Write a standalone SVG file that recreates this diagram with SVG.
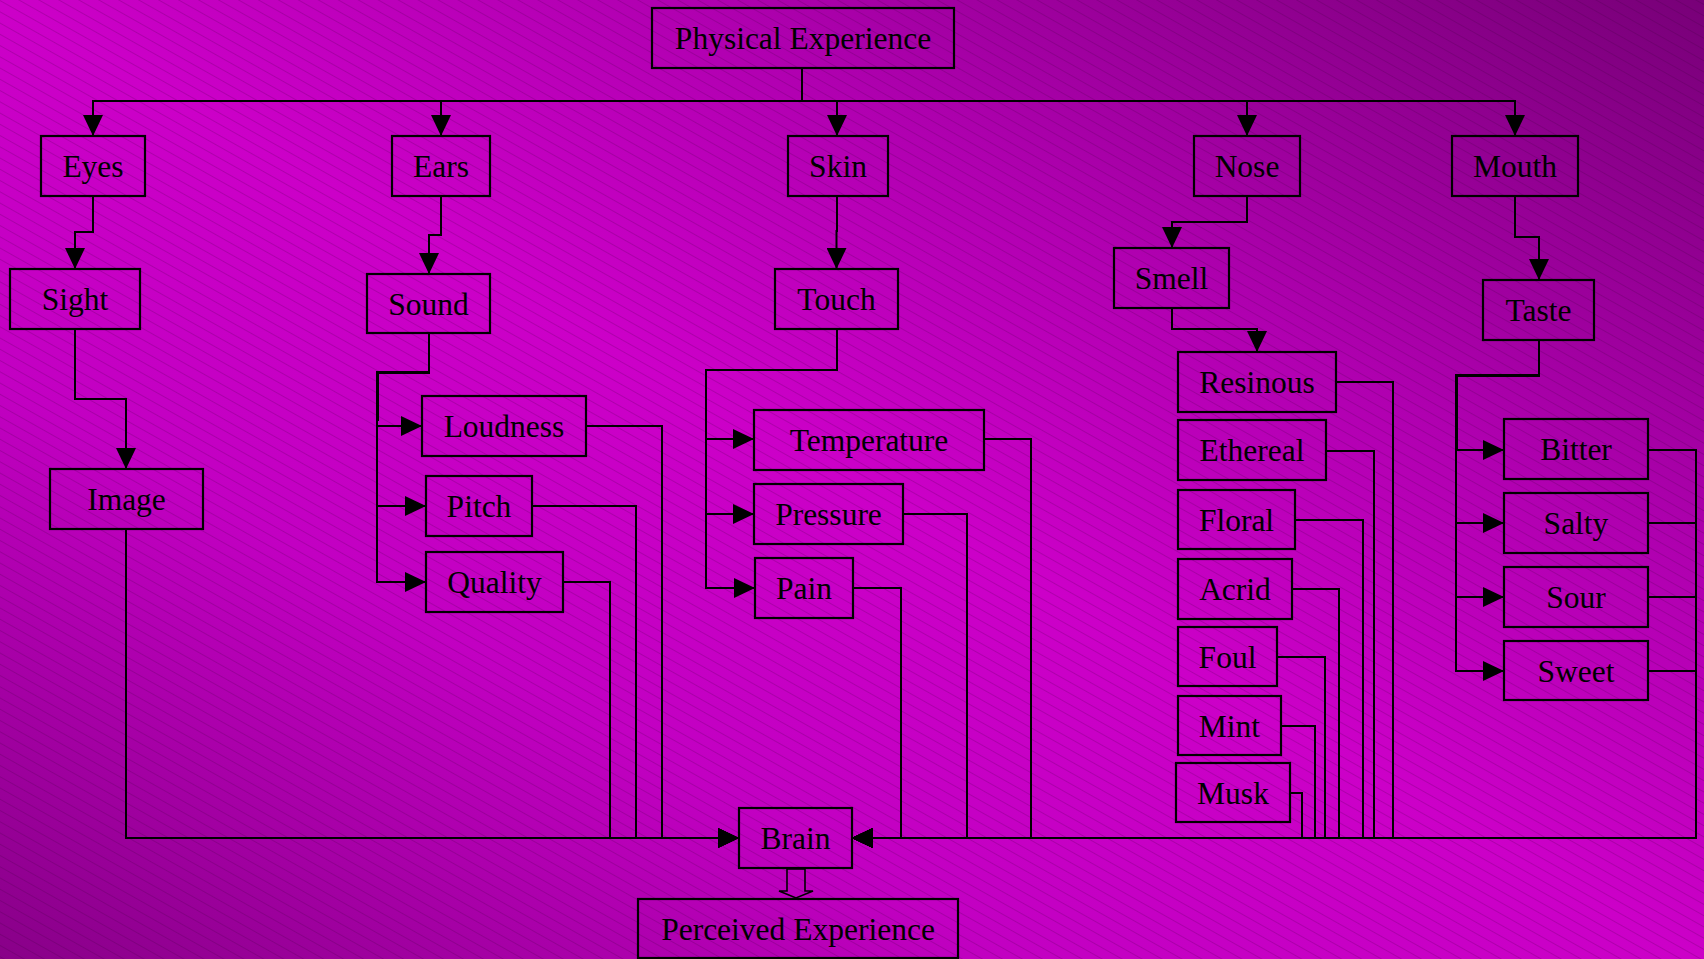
<svg xmlns="http://www.w3.org/2000/svg" width="1704" height="959" viewBox="0 0 1704 959">
<defs>
<linearGradient id="bg" x1="1" y1="0" x2="0" y2="1">
<stop offset="0" stop-color="#780078"/>
<stop offset="0.3" stop-color="#b000b0"/>
<stop offset="0.5" stop-color="#cc00c8"/>
<stop offset="0.7" stop-color="#c200c2"/>
<stop offset="1" stop-color="#880088"/>
</linearGradient>
<pattern id="stripes" patternUnits="userSpaceOnUse" width="20" height="9.8" patternTransform="rotate(29.4)">
<line x1="0" y1="0.5" x2="20" y2="0.5" stroke="#3a003a" stroke-width="0.7" stroke-opacity="0.28"/>
</pattern>
<marker id="ah" markerUnits="userSpaceOnUse" markerWidth="21" markerHeight="20" refX="21" refY="10" orient="auto">
<path d="M0,0 L21,10 L0,20 z" fill="#000"/>
</marker>
<style>
.box{fill:none;stroke:#000;stroke-width:2.2}
.lbl{font-family:"Liberation Serif","Times New Roman",serif;font-size:31.5px;fill:#000;text-anchor:middle}
.c{fill:none;stroke:#000;stroke-width:2}
.ca{fill:none;stroke:#000;stroke-width:2;marker-end:url(#ah)}
</style>
</defs>
<rect x="0" y="0" width="1704" height="959" fill="url(#bg)"/>
<rect x="0" y="0" width="1704" height="959" fill="url(#stripes)"/>

<g id="connectors">
<path class="ca" d="M802,68 V101 H93 V136"/>
<path class="ca" d="M802,68 V101 H441 V136"/>
<path class="ca" d="M802,68 V101 H837 V136"/>
<path class="ca" d="M802,68 V101 H1247 V136"/>
<path class="ca" d="M802,68 V101 H1515 V136"/>
<path class="ca" d="M93,196 V232 H75 V269"/>
<path class="ca" d="M75,329 V399 H126 V469"/>
<path class="ca" d="M441,196 V235 H429 V274"/>
<path class="ca" d="M429,333 V372 H377 V426 H422"/>
<path class="ca" d="M429,333 V373 H378 V420 H377 V506 H426"/>
<path class="ca" d="M429,333 V372 H377 V582 H426"/>
<path class="ca" d="M837,196 V231 H836.5 V269"/>
<path class="ca" d="M837,329 V370 H706 V439 H754"/>
<path class="ca" d="M837,329 V370 H706 V514 H754"/>
<path class="ca" d="M837,329 V370 H706 V588 H755"/>
<path class="ca" d="M1247,196 V222 H1172 V248"/>
<path class="ca" d="M1172,308 V329 H1257 V352"/>
<path class="ca" d="M1515,196 V237 H1539 V280"/>
<path class="ca" d="M1539,340 V375 H1456 V450 H1504"/>
<path class="ca" d="M1539,340 V376 H1457 V450 H1456 V523 H1504"/>
<path class="ca" d="M1539,340 V375 H1456 V597 H1504"/>
<path class="ca" d="M1539,340 V375 H1456 V671 H1504"/>
<path class="ca" d="M126,529 V838 H739"/>
<path class="ca" d="M563,582 H610 V838 H739"/>
<path class="ca" d="M532,506 H636 V838 H739"/>
<path class="ca" d="M586,426 H662 V838 H739"/>
<path class="ca" d="M853,588 H901 V838 H852"/>
<path class="ca" d="M903,514 H967 V838 H852"/>
<path class="ca" d="M984,439 H1031 V838 H852"/>
<path class="ca" d="M1290,793 H1302 V838 H852"/>
<path class="ca" d="M1281,726 H1315 V838 H852"/>
<path class="ca" d="M1277,657 H1325 V838 H852"/>
<path class="ca" d="M1292,589 H1339 V838 H852"/>
<path class="ca" d="M1295,520 H1363 V838 H852"/>
<path class="ca" d="M1326,451 H1374 V838 H852"/>
<path class="ca" d="M1336,382 H1393 V838 H852"/>
<path class="ca" d="M1648,450 H1696 V838 H852"/>
<path class="ca" d="M1648,523 H1696 V838 H852"/>
<path class="ca" d="M1648,597 H1696 V838 H852"/>
<path class="ca" d="M1648,671 H1696 V838 H852"/>
<path d="M787,869 H805 V891 H813 L796,898 L779,891 H787 Z" fill="none" stroke="#000" stroke-width="1.6"/>
</g>

<g id="physical"><rect class="box" x="652" y="8" width="302" height="60"/><text class="lbl" x="803" y="49">Physical Experience</text></g>
<g id="eyes"><rect class="box" x="41" y="136" width="104" height="60"/><text class="lbl" x="93" y="177">Eyes</text></g>
<g id="ears"><rect class="box" x="392" y="136" width="98" height="60"/><text class="lbl" x="441" y="177">Ears</text></g>
<g id="skin"><rect class="box" x="788" y="136" width="100" height="60"/><text class="lbl" x="838" y="177">Skin</text></g>
<g id="nose"><rect class="box" x="1194" y="136" width="106" height="60"/><text class="lbl" x="1247" y="177">Nose</text></g>
<g id="mouth"><rect class="box" x="1452" y="136" width="126" height="60"/><text class="lbl" x="1515" y="177">Mouth</text></g>
<g id="sight"><rect class="box" x="10" y="269" width="130" height="60"/><text class="lbl" x="75" y="310">Sight</text></g>
<g id="sound"><rect class="box" x="367" y="274" width="123" height="59"/><text class="lbl" x="428.5" y="315">Sound</text></g>
<g id="touch"><rect class="box" x="775" y="269" width="123" height="60"/><text class="lbl" x="836.5" y="310">Touch</text></g>
<g id="smell"><rect class="box" x="1114" y="248" width="115" height="60"/><text class="lbl" x="1171.5" y="289">Smell</text></g>
<g id="taste"><rect class="box" x="1483" y="280" width="111" height="60"/><text class="lbl" x="1538.5" y="321">Taste</text></g>
<g id="image"><rect class="box" x="50" y="469" width="153" height="60"/><text class="lbl" x="126.5" y="510">Image</text></g>
<g id="loudness"><rect class="box" x="422" y="396" width="164" height="60"/><text class="lbl" x="504" y="437">Loudness</text></g>
<g id="pitch"><rect class="box" x="426" y="476" width="106" height="60"/><text class="lbl" x="479" y="517">Pitch</text></g>
<g id="quality"><rect class="box" x="426" y="552" width="137" height="60"/><text class="lbl" x="494.5" y="593">Quality</text></g>
<g id="temperature"><rect class="box" x="754" y="410" width="230" height="60"/><text class="lbl" x="869" y="451">Temperature</text></g>
<g id="pressure"><rect class="box" x="754" y="484" width="149" height="60"/><text class="lbl" x="828.5" y="525">Pressure</text></g>
<g id="pain"><rect class="box" x="755" y="558" width="98" height="60"/><text class="lbl" x="804" y="599">Pain</text></g>
<g id="resinous"><rect class="box" x="1178" y="352" width="158" height="60"/><text class="lbl" x="1257" y="393">Resinous</text></g>
<g id="ethereal"><rect class="box" x="1178" y="420" width="148" height="60"/><text class="lbl" x="1252" y="461">Ethereal</text></g>
<g id="floral"><rect class="box" x="1178" y="490" width="117" height="59"/><text class="lbl" x="1236.5" y="531">Floral</text></g>
<g id="acrid"><rect class="box" x="1178" y="559" width="114" height="60"/><text class="lbl" x="1235" y="600">Acrid</text></g>
<g id="foul"><rect class="box" x="1178" y="627" width="99" height="59"/><text class="lbl" x="1227.5" y="668">Foul</text></g>
<g id="mint"><rect class="box" x="1178" y="696" width="103" height="59"/><text class="lbl" x="1229.5" y="737">Mint</text></g>
<g id="musk"><rect class="box" x="1176" y="763" width="114" height="59"/><text class="lbl" x="1233" y="804">Musk</text></g>
<g id="bitter"><rect class="box" x="1504" y="419" width="144" height="60"/><text class="lbl" x="1576" y="460">Bitter</text></g>
<g id="salty"><rect class="box" x="1504" y="493" width="144" height="60"/><text class="lbl" x="1576" y="534">Salty</text></g>
<g id="sour"><rect class="box" x="1504" y="567" width="144" height="60"/><text class="lbl" x="1576" y="608">Sour</text></g>
<g id="sweet"><rect class="box" x="1504" y="641" width="144" height="59"/><text class="lbl" x="1576" y="682">Sweet</text></g>
<g id="brain"><rect class="box" x="739" y="808" width="113" height="60"/><text class="lbl" x="795.5" y="849">Brain</text></g>
<g id="perceived"><rect class="box" x="638" y="899" width="320" height="59"/><text class="lbl" x="798" y="940">Perceived Experience</text></g>
</svg>
